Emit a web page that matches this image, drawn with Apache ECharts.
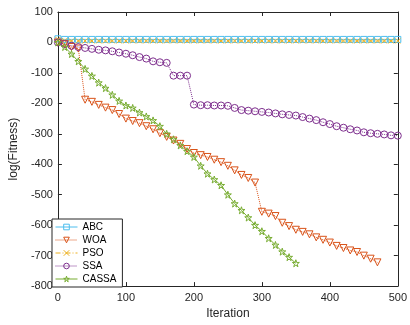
<!DOCTYPE html>
<html><head><meta charset="utf-8">
<script src="https://cdn.jsdelivr.net/npm/echarts@6/dist/echarts.min.js"></script>
<style>html,body{margin:0;padding:0;background:#fff}#c{width:410px;height:325px}</style>
</head><body><div id="c"></div>
<script>
// Iteration marks (every 10 iterations)
const iterations = [0,10,20,30,40,50,60,70,80,90,100,110,120,130,140,150,160,170,180,190,200,210,220,230,240,250,260,270,280,290,300,310,320,330,340,350,360,370,380,390,400,410,420,430,440,450,460,470,480,490,500];
const xTicks = [0,100,200,300,400,500];
const yTicks = [-800,-700,-600,-500,-400,-300,-200,-100,0,100];

const ABC = [12,10,10,10,10,10,10,10,10,10,10,10,10,10,10,10,10,10,10,10,10,10,10,10,10,10,10,10,10,10,10,10,10,10,10,10,10,10,10,10,10,10,10,10,10,10,10,10,10,10,10];
const PSO = [10,6,5,5,5,5,5,5,5,5,5,5,5,5,5,5,5,5,5,5,5,5,5,5,5,5,5,5,5,5,5,5,5,5,5,5,5,5,5,5,5,5,5,5,5,5,5,5,5,5,5];
const WOA = [0,-5,-15,-20,-188,-195,-205,-214,-222,-235,-250,-258,-265,-275,-285,-298,-310,-322,-333,-350,-363,-370,-376,-385,-393,-405,-420,-435,-445,-460,-556,-562,-570,-592,-603,-615,-622,-630,-640,-648,-657,-668,-675,-683,-688,-700,-710,-722];
const SSA = [0,-5,-11,-15,-18,-21,-24,-26,-29,-33,-37,-42,-48,-53,-62,-65,-67,-109,-109,-109,-204,-206,-206,-207,-207,-208,-215,-222,-224,-226,-228,-230,-233,-236,-238,-240,-245,-250,-255,-262,-268,-275,-280,-285,-289,-295,-298,-300,-302,-305,-306];
const CASSA = [0,-15,-38,-62,-87,-110,-132,-150,-172,-192,-207,-215,-230,-243,-256,-275,-300,-318,-338,-357,-376,-405,-431,-450,-469,-500,-529,-551,-575,-600,-620,-643,-665,-687,-705,-725];

const names = ['ABC','WOA','PSO','SSA','CASSA'];
const colors = ['#4DBEEE','#D95319','#EDB120','#7E2F8E','#77AC30'];

function pairs(v){ return v.map((y,i)=>[iterations[i], y]); }

const starPath = 'path://M50,0 L61,35 L98,35 L68,57 L79,91 L50,70 L21,91 L32,57 L2,35 L39,35 Z';
const xPath = 'path://M0,0 L10,10 M10,0 L0,10';

function mk(name, data, color, lineType, symbol, size, rotate){
  return {
    name, type:'line', data: pairs(data),
    symbol, symbolSize:size, symbolRotate: rotate||0, showAllSymbol:true,
    lineStyle:{color, width:1, type:lineType},
    itemStyle:{color:'rgba(255,255,255,0)', borderColor:color, borderWidth:1},
    emphasis:{disabled:true}, animation:false, z:2
  };
}

const txt = '#262626';
const font = 'Liberation Sans, Arial, sans-serif';
const chart = echarts.init(document.getElementById('c'));
chart.setOption({
  backgroundColor:'#fff',
  animation:false,
  grid:{left:52, right:8, top:12, bottom:38, containLabel:false},
  legend:{
    orient:'vertical', left:52, top:219,
    data:names,
    backgroundColor:'#fff', borderColor:'#262626', borderWidth:1, borderRadius:0,
    padding:[3,6,3,3], itemGap:3, itemWidth:22, itemHeight:7,
    itemStyle:{color:'rgba(255,255,255,0)', borderWidth:1},
    lineStyle:{width:1},
    textStyle:{fontSize:10, color:'#000', fontFamily:font, padding:[0,0,0,0]}
  },
  xAxis:[{
    type:'value', min:0, max:500, interval:100,
    name:'Iteration', nameLocation:'middle', nameGap:21,
    nameTextStyle:{fontSize:12, color:txt, fontFamily:font},
    axisLine:{show:true, onZero:false, lineStyle:{color:txt, width:1}},
    axisTick:{show:true, inside:true, length:4, lineStyle:{color:txt}},
    axisLabel:{fontSize:11, color:txt, fontFamily:font, margin:6},
    splitLine:{show:false}
  },{
    type:'value', min:0, max:500, interval:100, position:'top',
    axisLine:{show:true, onZero:false, lineStyle:{color:txt, width:1}},
    axisTick:{show:true, inside:true, length:4, lineStyle:{color:txt}},
    axisLabel:{show:false}, splitLine:{show:false}
  }],
  yAxis:[{
    type:'value', min:-800, max:100, interval:100,
    name:'log(Fitness)', nameLocation:'middle', nameGap:36,
    nameTextStyle:{fontSize:12, color:txt, fontFamily:font},
    axisLine:{show:true, onZero:false, lineStyle:{color:txt, width:1}},
    axisTick:{show:true, inside:true, length:4, lineStyle:{color:txt}},
    axisLabel:{fontSize:11, color:txt, fontFamily:font, margin:5},
    splitLine:{show:false}
  },{
    type:'value', min:-800, max:100, interval:100, position:'right',
    axisLine:{show:true, onZero:false, lineStyle:{color:txt, width:1}},
    axisTick:{show:true, inside:true, length:4, lineStyle:{color:txt}},
    axisLabel:{show:false}, splitLine:{show:false}
  }],
  series:[
    mk('ABC', ABC, colors[0], 'solid', 'rect', 6, 0),
    mk('WOA', WOA, colors[1], 'dotted', 'triangle', 7, 180),
    mk('PSO', PSO, colors[2], [5,2,1,2], xPath, 5, 0),
    mk('SSA', SSA, colors[3], 'dotted', 'circle', 7, 0),
    mk('CASSA', CASSA, colors[4], 'solid', starPath, 7, 0)
  ]
});
</script></body></html>
